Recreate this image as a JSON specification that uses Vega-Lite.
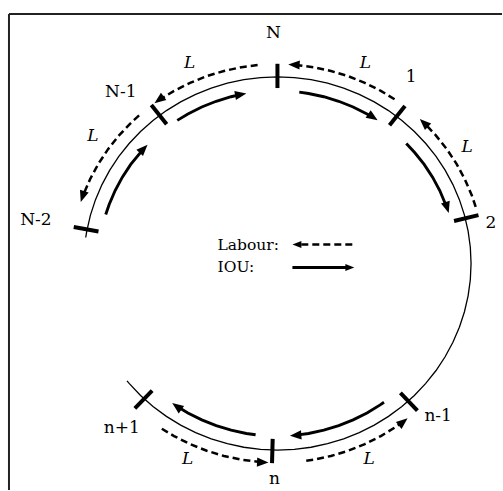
{
  "$schema": "https://vega.github.io/schema/vega-lite/v6.json",
  "width": 503,
  "height": 491,
  "padding": 0,
  "autosize": {"type": "fit", "contains": "padding"},
  "config": {"view": {"stroke": null}},
  "datasets": {
    "frame": [
      {"x": -1.3866, "y": 1.3369, "x2": -1.3866, "y2": -1.2139},
      {"x": -1.3866, "y": 1.3369, "x2": 1.1598, "y2": 1.3369}
    ],
    "circle": [
      {"k": 0, "x": -0.9903, "y": 0.1392}, {"k": 1, "x": -0.9848, "y": 0.1736}, {"k": 2, "x": -0.9659, "y": 0.2588},
      {"k": 3, "x": -0.9397, "y": 0.342}, {"k": 4, "x": -0.9063, "y": 0.4226}, {"k": 5, "x": -0.866, "y": 0.5},
      {"k": 6, "x": -0.8192, "y": 0.5736}, {"k": 7, "x": -0.766, "y": 0.6428}, {"k": 8, "x": -0.7071, "y": 0.7071},
      {"k": 9, "x": -0.6428, "y": 0.766}, {"k": 10, "x": -0.5736, "y": 0.8192}, {"k": 11, "x": -0.5, "y": 0.866},
      {"k": 12, "x": -0.4226, "y": 0.9063}, {"k": 13, "x": -0.342, "y": 0.9397}, {"k": 14, "x": -0.2588, "y": 0.9659},
      {"k": 15, "x": -0.1736, "y": 0.9848}, {"k": 16, "x": -0.0872, "y": 0.9962}, {"k": 17, "x": 0, "y": 1},
      {"k": 18, "x": 0.0872, "y": 0.9962}, {"k": 19, "x": 0.1736, "y": 0.9848}, {"k": 20, "x": 0.2588, "y": 0.9659},
      {"k": 21, "x": 0.342, "y": 0.9397}, {"k": 22, "x": 0.4226, "y": 0.9063}, {"k": 23, "x": 0.5, "y": 0.866},
      {"k": 24, "x": 0.5736, "y": 0.8192}, {"k": 25, "x": 0.6428, "y": 0.766}, {"k": 26, "x": 0.7071, "y": 0.7071},
      {"k": 27, "x": 0.766, "y": 0.6428}, {"k": 28, "x": 0.8192, "y": 0.5736}, {"k": 29, "x": 0.866, "y": 0.5},
      {"k": 30, "x": 0.9063, "y": 0.4226}, {"k": 31, "x": 0.9397, "y": 0.342}, {"k": 32, "x": 0.9659, "y": 0.2588},
      {"k": 33, "x": 0.9848, "y": 0.1736}, {"k": 34, "x": 0.9962, "y": 0.0872}, {"k": 35, "x": 1, "y": 0},
      {"k": 36, "x": 0.9962, "y": -0.0872}, {"k": 37, "x": 0.9848, "y": -0.1736}, {"k": 38, "x": 0.9659, "y": -0.2588},
      {"k": 39, "x": 0.9397, "y": -0.342}, {"k": 40, "x": 0.9063, "y": -0.4226}, {"k": 41, "x": 0.866, "y": -0.5},
      {"k": 42, "x": 0.8192, "y": -0.5736}, {"k": 43, "x": 0.766, "y": -0.6428}, {"k": 44, "x": 0.7071, "y": -0.7071},
      {"k": 45, "x": 0.6428, "y": -0.766}, {"k": 46, "x": 0.5736, "y": -0.8192}, {"k": 47, "x": 0.5, "y": -0.866},
      {"k": 48, "x": 0.4226, "y": -0.9063}, {"k": 49, "x": 0.342, "y": -0.9397}, {"k": 50, "x": 0.2588, "y": -0.9659},
      {"k": 51, "x": 0.1736, "y": -0.9848}, {"k": 52, "x": 0.0872, "y": -0.9962}, {"k": 53, "x": 0, "y": -1},
      {"k": 54, "x": -0.0872, "y": -0.9962}, {"k": 55, "x": -0.1736, "y": -0.9848}, {"k": 56, "x": -0.2588, "y": -0.9659},
      {"k": 57, "x": -0.342, "y": -0.9397}, {"k": 58, "x": -0.4226, "y": -0.9063}, {"k": 59, "x": -0.5, "y": -0.866},
      {"k": 60, "x": -0.5736, "y": -0.8192}, {"k": 61, "x": -0.6428, "y": -0.766}, {"k": 62, "x": -0.7071, "y": -0.7071},
      {"k": 63, "x": -0.766, "y": -0.6428}, {"k": 64, "x": -0.7771, "y": -0.6293}
    ],
    "ticks": [
      {"node": "N", "x": 0, "y": 0.94, "x2": 0, "y2": 1.07},
      {"node": "1", "x": 0.5787, "y": 0.7407, "x2": 0.6588, "y2": 0.8432},
      {"node": "2", "x": 0.9121, "y": 0.2274, "x2": 1.0382, "y2": 0.2588},
      {"node": "n-1", "x": 0.6351, "y": -0.6931, "x2": 0.7229, "y2": -0.7889},
      {"node": "n", "x": -0.0246, "y": -0.9397, "x2": -0.028, "y2": -1.0697},
      {"node": "n+1", "x": -0.6471, "y": -0.6819, "x2": -0.7366, "y2": -0.7762},
      {"node": "N-2", "x": -0.9243, "y": 0.1713, "x2": -1.0521, "y2": 0.195},
      {"node": "N-1", "x": -0.5723, "y": 0.7458, "x2": -0.6514, "y2": 0.8489}
    ],
    "arrows": [
      {"id": "a1", "kind": "IOU", "k": 0, "x": -0.5173, "y": 0.7668},
      {"id": "a1", "kind": "IOU", "k": 1, "x": -0.4625, "y": 0.8011},
      {"id": "a1", "kind": "IOU", "k": 2, "x": -0.3909, "y": 0.8383},
      {"id": "a1", "kind": "IOU", "k": 3, "x": -0.3164, "y": 0.8692},
      {"id": "a1", "kind": "IOU", "k": 4, "x": -0.2394, "y": 0.8935},
      {"id": "a1", "kind": "IOU", "k": 5, "x": -0.1923, "y": 0.9047},
      {"id": "a2", "kind": "IOU", "k": 0, "x": 0.1128, "y": 0.9181},
      {"id": "a2", "kind": "IOU", "k": 1, "x": 0.1606, "y": 0.9109},
      {"id": "a2", "kind": "IOU", "k": 2, "x": 0.2394, "y": 0.8935},
      {"id": "a2", "kind": "IOU", "k": 3, "x": 0.3164, "y": 0.8692},
      {"id": "a2", "kind": "IOU", "k": 4, "x": 0.3909, "y": 0.8383},
      {"id": "a2", "kind": "IOU", "k": 5, "x": 0.4625, "y": 0.8011},
      {"id": "a2", "kind": "IOU", "k": 6, "x": 0.4902, "y": 0.7844},
      {"id": "a3", "kind": "IOU", "k": 0, "x": 0.6654, "y": 0.6426},
      {"id": "a3", "kind": "IOU", "k": 1, "x": 0.7086, "y": 0.5946},
      {"id": "a3", "kind": "IOU", "k": 2, "x": 0.7578, "y": 0.5306},
      {"id": "a3", "kind": "IOU", "k": 3, "x": 0.8011, "y": 0.4625},
      {"id": "a3", "kind": "IOU", "k": 4, "x": 0.8383, "y": 0.3909},
      {"id": "a3", "kind": "IOU", "k": 5, "x": 0.8746, "y": 0.3012},
      {"id": "a4", "kind": "IOU", "k": 0, "x": -0.8869, "y": 0.2627},
      {"id": "a4", "kind": "IOU", "k": 1, "x": -0.8692, "y": 0.3164},
      {"id": "a4", "kind": "IOU", "k": 2, "x": -0.8383, "y": 0.3909},
      {"id": "a4", "kind": "IOU", "k": 3, "x": -0.8011, "y": 0.4625},
      {"id": "a4", "kind": "IOU", "k": 4, "x": -0.7578, "y": 0.5306},
      {"id": "a4", "kind": "IOU", "k": 5, "x": -0.6928, "y": 0.6129},
      {"id": "a5", "kind": "IOU", "k": 0, "x": 0.5502, "y": -0.7436},
      {"id": "a5", "kind": "IOU", "k": 1, "x": 0.5306, "y": -0.7578},
      {"id": "a5", "kind": "IOU", "k": 2, "x": 0.4625, "y": -0.8011},
      {"id": "a5", "kind": "IOU", "k": 3, "x": 0.3909, "y": -0.8383},
      {"id": "a5", "kind": "IOU", "k": 4, "x": 0.3164, "y": -0.8692},
      {"id": "a5", "kind": "IOU", "k": 5, "x": 0.2394, "y": -0.8935},
      {"id": "a5", "kind": "IOU", "k": 6, "x": 0.1606, "y": -0.9109},
      {"id": "a5", "kind": "IOU", "k": 7, "x": 0.0967, "y": -0.9199},
      {"id": "a6", "kind": "IOU", "k": 0, "x": -0.1128, "y": -0.9181},
      {"id": "a6", "kind": "IOU", "k": 1, "x": -0.1606, "y": -0.9109},
      {"id": "a6", "kind": "IOU", "k": 2, "x": -0.2394, "y": -0.8935},
      {"id": "a6", "kind": "IOU", "k": 3, "x": -0.3164, "y": -0.8692},
      {"id": "a6", "kind": "IOU", "k": 4, "x": -0.3909, "y": -0.8383},
      {"id": "a6", "kind": "IOU", "k": 5, "x": -0.4625, "y": -0.8011},
      {"id": "a6", "kind": "IOU", "k": 6, "x": -0.5173, "y": -0.7668},
      {"id": "ai", "kind": "IOU", "k": 0, "x": 0.0773, "y": -0.0214},
      {"id": "ai", "kind": "IOU", "k": 1, "x": 0.3763, "y": -0.0214},
      {"id": "b1", "kind": "Labour", "k": 0, "x": -0.1023, "y": 1.0631},
      {"id": "b1", "kind": "Labour", "k": 1, "x": -0.1854, "y": 1.0518},
      {"id": "b1", "kind": "Labour", "k": 2, "x": -0.2764, "y": 1.0316},
      {"id": "b1", "kind": "Labour", "k": 3, "x": -0.3653, "y": 1.0036},
      {"id": "b1", "kind": "Labour", "k": 4, "x": -0.4513, "y": 0.9679},
      {"id": "b1", "kind": "Labour", "k": 5, "x": -0.534, "y": 0.9249},
      {"id": "b1", "kind": "Labour", "k": 6, "x": -0.6049, "y": 0.8801},
      {"id": "b2", "kind": "Labour", "k": 0, "x": 0.6049, "y": 0.8801},
      {"id": "b2", "kind": "Labour", "k": 1, "x": 0.534, "y": 0.9249},
      {"id": "b2", "kind": "Labour", "k": 2, "x": 0.4513, "y": 0.9679},
      {"id": "b2", "kind": "Labour", "k": 3, "x": 0.3653, "y": 1.0036},
      {"id": "b2", "kind": "Labour", "k": 4, "x": 0.2764, "y": 1.0316},
      {"id": "b2", "kind": "Labour", "k": 5, "x": 0.1854, "y": 1.0518},
      {"id": "b2", "kind": "Labour", "k": 6, "x": 0.0931, "y": 1.0639},
      {"id": "b3", "kind": "Labour", "k": 0, "x": 1.024, "y": 0.3033},
      {"id": "b3", "kind": "Labour", "k": 1, "x": 1.0036, "y": 0.3653},
      {"id": "b3", "kind": "Labour", "k": 2, "x": 0.9679, "y": 0.4513},
      {"id": "b3", "kind": "Labour", "k": 3, "x": 0.9249, "y": 0.534},
      {"id": "b3", "kind": "Labour", "k": 4, "x": 0.8749, "y": 0.6126},
      {"id": "b3", "kind": "Labour", "k": 5, "x": 0.8181, "y": 0.6865},
      {"id": "b3", "kind": "Labour", "k": 6, "x": 0.7618, "y": 0.7486},
      {"id": "b4", "kind": "Labour", "k": 0, "x": -0.7146, "y": 0.7936},
      {"id": "b4", "kind": "Labour", "k": 1, "x": -0.7552, "y": 0.7552},
      {"id": "b4", "kind": "Labour", "k": 2, "x": -0.8181, "y": 0.6865},
      {"id": "b4", "kind": "Labour", "k": 3, "x": -0.8749, "y": 0.6126},
      {"id": "b4", "kind": "Labour", "k": 4, "x": -0.9249, "y": 0.534},
      {"id": "b4", "kind": "Labour", "k": 5, "x": -0.9679, "y": 0.4513},
      {"id": "b4", "kind": "Labour", "k": 6, "x": -1.0036, "y": 0.3653},
      {"id": "b5", "kind": "Labour", "k": 0, "x": 0.1487, "y": -1.0576},
      {"id": "b5", "kind": "Labour", "k": 1, "x": 0.1854, "y": -1.0518},
      {"id": "b5", "kind": "Labour", "k": 2, "x": 0.2764, "y": -1.0316},
      {"id": "b5", "kind": "Labour", "k": 3, "x": 0.3653, "y": -1.0036},
      {"id": "b5", "kind": "Labour", "k": 4, "x": 0.4513, "y": -0.9679},
      {"id": "b5", "kind": "Labour", "k": 5, "x": 0.534, "y": -0.9249},
      {"id": "b5", "kind": "Labour", "k": 6, "x": 0.6126, "y": -0.8749},
      {"id": "b5", "kind": "Labour", "k": 7, "x": 0.6427, "y": -0.8529},
      {"id": "b6", "kind": "Labour", "k": 0, "x": -0.5972, "y": -0.8854},
      {"id": "b6", "kind": "Labour", "k": 1, "x": -0.534, "y": -0.9249},
      {"id": "b6", "kind": "Labour", "k": 2, "x": -0.4513, "y": -0.9679},
      {"id": "b6", "kind": "Labour", "k": 3, "x": -0.3653, "y": -1.0036},
      {"id": "b6", "kind": "Labour", "k": 4, "x": -0.2764, "y": -1.0316},
      {"id": "b6", "kind": "Labour", "k": 5, "x": -0.1854, "y": -1.0518},
      {"id": "b6", "kind": "Labour", "k": 6, "x": -0.0838, "y": -1.0647},
      {"id": "bl", "kind": "Labour", "k": 0, "x": 0.3866, "y": 0.1016},
      {"id": "bl", "kind": "Labour", "k": 1, "x": 0.0979, "y": 0.1016}
    ],
    "heads": [
      {"id": "a1", "grp": "main", "x": -0.1606, "y": 0.9109, "dir": 80},
      {"id": "a2", "grp": "main", "x": 0.5173, "y": 0.7668, "dir": 124},
      {"id": "a3", "grp": "main", "x": 0.8846, "y": 0.2705, "dir": 163},
      {"id": "a4", "grp": "main", "x": -0.671, "y": 0.6368, "dir": 43.5},
      {"id": "a5", "grp": "main", "x": 0.0646, "y": -0.9228, "dir": 266},
      {"id": "a6", "grp": "main", "x": -0.5437, "y": -0.7483, "dir": 306},
      {"id": "b1", "grp": "main", "x": -0.6352, "y": 0.8586, "dir": 233.5},
      {"id": "b2", "grp": "main", "x": 0.0559, "y": 1.0665, "dir": 273},
      {"id": "b3", "grp": "main", "x": 0.7352, "y": 0.7747, "dir": 313.5},
      {"id": "b4", "grp": "main", "x": -1.0158, "y": 0.33, "dir": 198},
      {"id": "b5", "grp": "main", "x": 0.6721, "y": -0.8299, "dir": 51},
      {"id": "b6", "grp": "main", "x": -0.0466, "y": -1.0669, "dir": 92.5},
      {"id": "bl", "grp": "legend", "x": 0.0773, "y": 0.1016, "dir": 270},
      {"id": "ai", "grp": "legend", "x": 0.3969, "y": -0.0214, "dir": 90}
    ],
    "labels": [
      {"t": "N", "x": -0.0206, "y": 1.2353},
      {"t": "1", "x": 0.6907, "y": 1.0},
      {"t": "2", "x": 1.1031, "y": 0.2193},
      {"t": "N-1", "x": -0.8093, "y": 0.9198},
      {"t": "N-2", "x": -1.2474, "y": 0.2353},
      {"t": "n-1", "x": 0.8299, "y": -0.8182},
      {"t": "n", "x": -0.0155, "y": -1.1551},
      {"t": "n+1", "x": -0.8041, "y": -0.8824}
    ],
    "ls": [
      {"t": "L", "x": -0.4536, "y": 1.0749},
      {"t": "L", "x": 0.4536, "y": 1.0749},
      {"t": "L", "x": 0.9794, "y": 0.6257},
      {"t": "L", "x": -0.9536, "y": 0.6845},
      {"t": "L", "x": -0.4639, "y": -1.0481},
      {"t": "L", "x": 0.4742, "y": -1.0481}
    ],
    "legend": [
      {"t": "Labour:", "x": -0.3093, "y": 0.1016},
      {"t": "IOU:", "x": -0.3093, "y": -0.0214}
    ]
  },
  "encoding": {
    "x": {"field": "x", "type": "quantitative", "axis": null, "scale": {"domain": [-1.433, 1.1598], "nice": false, "zero": false}},
    "y": {"field": "y", "type": "quantitative", "axis": null, "scale": {"domain": [-1.2139, 1.4118], "nice": false, "zero": false}}
  },
  "layer": [
    {
      "data": {"name": "frame"},
      "mark": {"type": "rule", "color": "#222222", "strokeWidth": 2},
      "encoding": {"x2": {"field": "x2"}, "y2": {"field": "y2"}}
    },
    {
      "data": {"name": "circle"},
      "mark": {"type": "line", "color": "#000000", "strokeWidth": 1.3},
      "encoding": {"order": {"field": "k", "type": "quantitative"}}
    },
    {
      "data": {"name": "arrows"},
      "transform": [{"filter": "datum.kind === 'IOU'"}],
      "mark": {"type": "line", "color": "#000000", "strokeWidth": 2.9},
      "encoding": {"detail": {"field": "id"}, "order": {"field": "k", "type": "quantitative"}}
    },
    {
      "data": {"name": "arrows"},
      "transform": [{"filter": "datum.kind === 'Labour'"}],
      "mark": {"type": "line", "color": "#000000", "strokeWidth": 2.5, "strokeDash": [7, 4]},
      "encoding": {"detail": {"field": "id"}, "order": {"field": "k", "type": "quantitative"}}
    },
    {
      "data": {"name": "ticks"},
      "mark": {"type": "rule", "color": "#000000", "strokeWidth": 4},
      "encoding": {"x2": {"field": "x2"}, "y2": {"field": "y2"}}
    },
    {
      "data": {"name": "heads"},
      "transform": [{"filter": "datum.grp === 'main'"}],
      "mark": {"type": "point", "shape": "M0,0L0.8,2L-0.8,2Z", "filled": true, "color": "#000000", "opacity": 1, "size": 130},
      "encoding": {"angle": {"field": "dir", "type": "quantitative", "scale": null}}
    },
    {
      "data": {"name": "heads"},
      "transform": [{"filter": "datum.grp === 'legend'"}],
      "mark": {"type": "point", "shape": "M0,0L0.8,2L-0.8,2Z", "filled": true, "color": "#000000", "opacity": 1, "size": 80},
      "encoding": {"angle": {"field": "dir", "type": "quantitative", "scale": null}}
    },
    {
      "data": {"name": "labels"},
      "mark": {"type": "text", "font": "DejaVu Serif", "fontSize": 17, "color": "#000000", "align": "center", "baseline": "middle"},
      "encoding": {"text": {"field": "t"}}
    },
    {
      "data": {"name": "ls"},
      "mark": {"type": "text", "font": "DejaVu Serif", "fontSize": 17, "fontStyle": "italic", "color": "#000000", "align": "center", "baseline": "middle"},
      "encoding": {"text": {"field": "t"}}
    },
    {
      "data": {"name": "legend"},
      "mark": {"type": "text", "font": "DejaVu Serif", "fontSize": 15.5, "color": "#000000", "align": "left", "baseline": "middle"},
      "encoding": {"text": {"field": "t"}}
    }
  ]
}
